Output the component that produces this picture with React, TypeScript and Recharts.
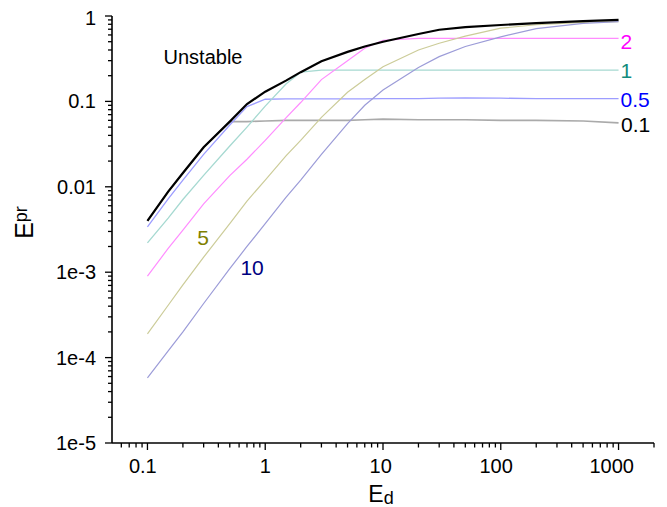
import React from "react";
import { LineChart, Line, XAxis, YAxis, ReferenceDot } from "recharts";

// E_d sample points
const ED = [0.1, 0.15, 0.2, 0.3, 0.5, 0.7, 1, 1.5, 2, 3, 5, 7, 10, 20, 30, 50, 100, 200, 500, 1000];

// E_pr curves
const UNSTABLE = [0.004, 0.0088, 0.0145, 0.029, 0.058, 0.093, 0.13, 0.175, 0.22, 0.295, 0.38, 0.44, 0.5, 0.615, 0.69, 0.74, 0.785, 0.825, 0.87, 0.9];
const K01 = [0.004, 0.0088, 0.0145, 0.029, 0.058, 0.058, 0.059, 0.06, 0.06, 0.06, 0.06, 0.061, 0.062, 0.061, 0.061, 0.061, 0.06, 0.06, 0.059, 0.056];
const K05 = [0.0034, 0.0072, 0.012, 0.024, 0.053, 0.087, 0.106, 0.107, 0.107, 0.107, 0.107, 0.107, 0.108, 0.108, 0.109, 0.11, 0.109, 0.108, 0.108, 0.108];
const K1 = [0.0022, 0.0043, 0.0071, 0.0136, 0.03, 0.05, 0.088, 0.16, 0.22, 0.233, 0.233, 0.233, 0.233, 0.233, 0.233, 0.233, 0.233, 0.233, 0.233, 0.233];
const K2 = [0.0009, 0.0019, 0.0031, 0.0063, 0.0135, 0.021, 0.035, 0.064, 0.097, 0.18, 0.3, 0.42, 0.52, 0.548, 0.548, 0.548, 0.548, 0.548, 0.548, 0.548];
const K5 = [0.00019, 0.00041, 0.00071, 0.0015, 0.0037, 0.0068, 0.012, 0.023, 0.035, 0.065, 0.128, 0.18, 0.255, 0.4, 0.48, 0.58, 0.72, 0.79, 0.84, 0.86];
const K10 = [0.000058, 0.00012, 0.0002, 0.00043, 0.0011, 0.002, 0.0037, 0.0075, 0.012, 0.024, 0.055, 0.09, 0.136, 0.25, 0.334, 0.44, 0.57, 0.71, 0.82, 0.86];

// axis ticks
const X_TICKS = [0.06, 0.07, 0.08, 0.09, 0.1, 0.2, 0.3, 0.4, 0.5, 0.6, 0.7, 0.8, 0.9, 1, 2, 3, 4, 5, 6, 7, 8, 9, 10, 20, 30, 40, 50, 60, 70, 80, 90, 100, 200, 300, 400, 500, 600, 700, 800, 900, 1000, 2000];
const X_MAJOR = [0.1, 1, 10, 100, 1000];
const X_MAJOR_LABELS = ["0.1", "1", "10", "100", "1000"];
const Y_TICKS = [
  0.00001, 0.00002, 0.00003, 0.00004, 0.00005, 0.00006, 0.00007, 0.00008, 0.00009,
  0.0001, 0.0002, 0.0003, 0.0004, 0.0005, 0.0006, 0.0007, 0.0008, 0.0009,
  0.001, 0.002, 0.003, 0.004, 0.005, 0.006, 0.007, 0.008, 0.009,
  0.01, 0.02, 0.03, 0.04, 0.05, 0.06, 0.07, 0.08, 0.09,
  0.1, 0.2, 0.3, 0.4, 0.5, 0.6, 0.7, 0.8, 0.9, 1,
];
const Y_MAJOR = [1, 0.1, 0.01, 0.001, 0.0001, 0.00001];
const Y_MAJOR_LABELS = ["1", "0.1", "0.01", "1e-3", "1e-4", "1e-5"];

// annotations (text, E_d, E_pr at baseline-left)
const NOTE_TEXT = ["Unstable", "2", "1", "0.5", "0.1", "5", "10"];
const NOTE_X = [0.137, 1040, 1040, 1040, 1050, 0.265, 0.616];
const NOTE_Y = [0.274, 0.411, 0.188, 0.086, 0.0438, 0.00208, 0.000927];
const NOTE_COLOR = ["#000000", "#ff00ff", "#138b7d", "#0000ff", "#000000", "#808000", "#000080"];

const data = ED.map((x, i) => ({
  x,
  unstable: UNSTABLE[i],
  k01: K01[i],
  k05: K05[i],
  k1: K1[i],
  k2: K2[i],
  k5: K5[i],
  k10: K10[i],
}));

const SERIES = [
  { key: "k01", color: "#aaaaaa", w: 1.6 },
  { key: "k05", color: "#9d9dff", w: 1.3 },
  { key: "k1", color: "#a6d9d1", w: 1.3 },
  { key: "k2", color: "#ff8cff", w: 1.2 },
  { key: "k5", color: "#cccc99", w: 1.2 },
  { key: "k10", color: "#9c9cd8", w: 1.2 },
  { key: "unstable", color: "#000000", w: 2.2 },
];

const FONT = "'Liberation Sans', Arial, sans-serif";

const XTick = (props: any) => {
  const { x, y, payload } = props;
  const idx = X_MAJOR.indexOf(payload.value);
  const major = idx >= 0;
  const label = major ? X_MAJOR_LABELS[idx] : "";
  return (
    <g>
      <line x1={x} y1={y} x2={x} y2={y + (major ? 7 : 4.5)} stroke="#000" strokeWidth={1.3} />
      {major && (
        <text
          x={x - (label.length - 1) * 2.3}
          y={y + 30}
          textAnchor="middle"
          fontSize={20}
          fontFamily={FONT}
          fill="#000"
        >
          {label}
        </text>
      )}
    </g>
  );
};

const YTick = (props: any) => {
  const { x, y, payload } = props;
  const idx = Y_MAJOR.indexOf(payload.value);
  const major = idx >= 0;
  const label = major ? Y_MAJOR_LABELS[idx] : "";
  return (
    <g>
      <line x1={x} y1={y} x2={x - (major ? 7 : 4)} y2={y} stroke="#000" strokeWidth={1.3} />
      {major && (
        <text x={96} y={y + 7 + (idx === 0 ? 2 : 0)} textAnchor="end" fontSize={20} fontFamily={FONT} fill="#000">
          {label}
        </text>
      )}
    </g>
  );
};

const XTitle = (props: any) => {
  const vb = props.viewBox || { x: 112, y: 443, width: 542, height: 64 };
  const cx = vb.x + vb.width / 2 - 2;
  return (
    <text x={cx} y={vb.y + 59} textAnchor="middle" fontFamily={FONT} fill="#000">
      <tspan fontSize={23}>E</tspan>
      <tspan fontSize={18} dy={2}>d</tspan>
    </text>
  );
};

const YTitle = (props: any) => {
  const vb = props.viewBox || { x: 52, y: 16, width: 60, height: 427 };
  const cy = vb.y + vb.height / 2 - 7;
  return (
    <text
      transform={`translate(33, ${cy}) rotate(-90)`}
      x={0}
      y={0}
      textAnchor="middle"
      fontFamily={FONT}
      fill="#000"
    >
      <tspan fontSize={25}>E</tspan>
      <tspan fontSize={18} dy={-6}>pr</tspan>
    </text>
  );
};

export default function App() {
  return (
    <div style={{ position: "absolute", left: 0, top: 0, width: 667, height: 507, background: "#fff" }}>
      <LineChart
        width={667}
        height={507}
        data={data}
        margin={{ top: 16, right: 13, bottom: 0, left: 52 }}
      >
        <XAxis
          dataKey="x"
          type="number"
          scale="log"
          domain={[0.05, 2000]}
          allowDataOverflow
          ticks={X_TICKS}
          interval={0}
          height={64}
          tickSize={0}
          tickMargin={0}
          tickLine={false}
          axisLine={{ stroke: "#000", strokeWidth: 1.6 }}
          tick={<XTick />}
          label={{ content: <XTitle /> }}
        />
        <YAxis
          type="number"
          scale="log"
          domain={[0.00001, 1]}
          allowDataOverflow
          ticks={Y_TICKS}
          interval={0}
          width={60}
          tickSize={0}
          tickMargin={0}
          tickLine={false}
          axisLine={{ stroke: "#000", strokeWidth: 1.6 }}
          tick={<YTick />}
          label={{ content: <YTitle /> }}
        />
        {SERIES.map((s) => (
          <Line
            key={s.key}
            dataKey={s.key}
            type="linear"
            stroke={s.color}
            strokeWidth={s.w}
            dot={false}
            activeDot={false}
            isAnimationActive={false}
          />
        ))}
        {NOTE_TEXT.map((t, i) => (
          <ReferenceDot
            key={t + i}
            x={NOTE_X[i]}
            y={NOTE_Y[i]}
            r={0}
            ifOverflow="visible"
            shape={(p: any) => (
              <text
                x={p.cx}
                y={p.cy}
                fontSize={i === 0 ? 20 : 21}
                fontFamily={FONT}
                fill={NOTE_COLOR[i]}
              >
                {t}
              </text>
            )}
          />
        ))}
      </LineChart>
    </div>
  );
}
